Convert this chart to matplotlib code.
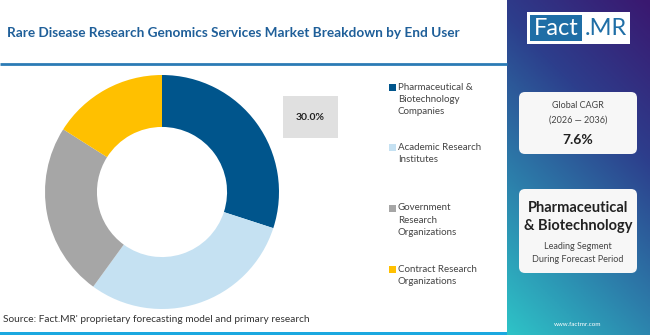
import matplotlib
matplotlib.use("Agg")
import matplotlib.pyplot as plt
import numpy as np
from matplotlib.colors import LinearSegmentedColormap
from matplotlib.patches import Rectangle, FancyBboxPatch

plt.rcParams["font.family"] = ["Lato", "DejaVu Sans"]

title = "Rare Disease Research Genomics Services Market Breakdown by End User"
segments = ["Pharmaceutical &\nBiotechnology\nCompanies",
            "Academic Research\nInstitutes",
            "Government\nResearch\nOrganizations",
            "Contract Research\nOrganizations"]
shares = [30.0, 30.0, 24.0, 16.0]
colors = ["#00558C", "#C5E1F2", "#A6A6A6", "#FFC000"]
highlight = "30.0%"
cagr_years = "(2026 — 2036)"
cagr = "7.6%"
leader = "Pharmaceutical\n& Biotechnology"
source = "Source: Fact.MR' proprietary forecasting model and primary research"

W, H = 650, 335
fig = plt.figure(figsize=(W / 100, H / 100), dpi=100)
fig.patch.set_facecolor("white")

# overlay axes in pixel coordinates
ov = fig.add_axes([0, 0, 1, 1])
ov.set_xlim(0, W)
ov.set_ylim(H, 0)
ov.axis("off")

# right gradient panel
px0 = 507
gx, gy = np.meshgrid(np.linspace(0, 1, 60), np.linspace(1, 0, 140))
t = 0.3 * gx + 0.7 * gy
cmap = LinearSegmentedColormap.from_list(
    "panel", ["#2EC3C7", "#2C7FAB", "#2D3E8C", "#3A1870"])
ov.imshow(t, cmap=cmap, extent=(px0, W, H, 0), aspect="auto", zorder=0)

# title, rule and bottom strip
ov.text(7, 33, title, fontsize=9.8, fontweight="bold", color="#1F5F99", va="center")
ov.plot([0, px0], [64, 64], color="#2B7BB5", lw=2, solid_capstyle="butt")
ov.add_patch(Rectangle((0, 331.5), px0, 4, color="#1BA8E0", lw=0))

# logo
ov.add_patch(Rectangle((527, 12), 103, 32, facecolor="white", edgecolor="none", zorder=2))
ov.add_patch(Rectangle((530, 15), 52, 26, facecolor="#1F6EA6", edgecolor="none", zorder=3))
ov.text(556, 28.5, "Fact", fontsize=17, color="white", ha="center", va="center", zorder=4)
ov.text(606, 28.5, ".MR", fontsize=17, color="#1F6EA6", ha="center", va="center", zorder=4)

# CAGR box
ov.add_patch(FancyBboxPatch((521, 94), 114, 58, boxstyle="round,pad=2,rounding_size=6",
                            facecolor="#F7F7F7", edgecolor="none", zorder=2))
ov.text(578, 105, "Global CAGR", fontsize=6.5, color="#444444", ha="center", va="center", zorder=3)
ov.text(578, 120, cagr_years, fontsize=6.5, color="#444444", ha="center", va="center", zorder=3)
ov.text(578, 140, cagr, fontsize=10, fontweight="bold", color="#222222", ha="center", va="center", zorder=3)

# leading segment box
ov.add_patch(FancyBboxPatch((521, 191), 114, 80, boxstyle="round,pad=2,rounding_size=6",
                            facecolor="#F7F7F7", edgecolor="none", zorder=2))
ov.text(578, 217, leader, fontsize=10.5, fontweight="bold", color="#222222", ha="center",
        va="center", linespacing=1.35, zorder=3)
ov.text(578, 253, "Leading Segment\nDuring Forecast Period", fontsize=6.5, color="#444444",
        ha="center", va="center", linespacing=1.5, zorder=3)
ov.text(578, 324, "www.factmr.com", fontsize=4.5, color="white", ha="center", va="center", zorder=3)

# highlight box
ov.add_patch(Rectangle((283, 96), 55, 42, facecolor="#E0E0E0", edgecolor="none"))
ov.text(310.5, 117, highlight, fontsize=7.5, fontweight="bold", color="#222222",
        ha="center", va="center")

# legend
leg_y = [87, 147, 208, 269]
for lab, col, y in zip(segments, colors, leg_y):
    ov.add_patch(Rectangle((389, y - 3.5), 7, 7, facecolor=col, edgecolor="none"))
    ov.text(398, y - 4.5, lab, fontsize=7, color="#444444", va="top", linespacing=1.45)

ov.text(3, 320, source, fontsize=7.3, color="#333333", va="center")

# donut
cx, cy, R = 162, 192, 117
ax = fig.add_axes([(cx - R) / W, (H - cy - R) / H, 2 * R / W, 2 * R / H])
ax.pie(shares, colors=colors, startangle=90, counterclock=False,
       wedgeprops=dict(width=0.444, edgecolor="none"))
ax.set_xlim(-1, 1)
ax.set_ylim(-1, 1)
ax.set_aspect("equal")
ax.axis("off")

fig.savefig("out.png", dpi=100)
